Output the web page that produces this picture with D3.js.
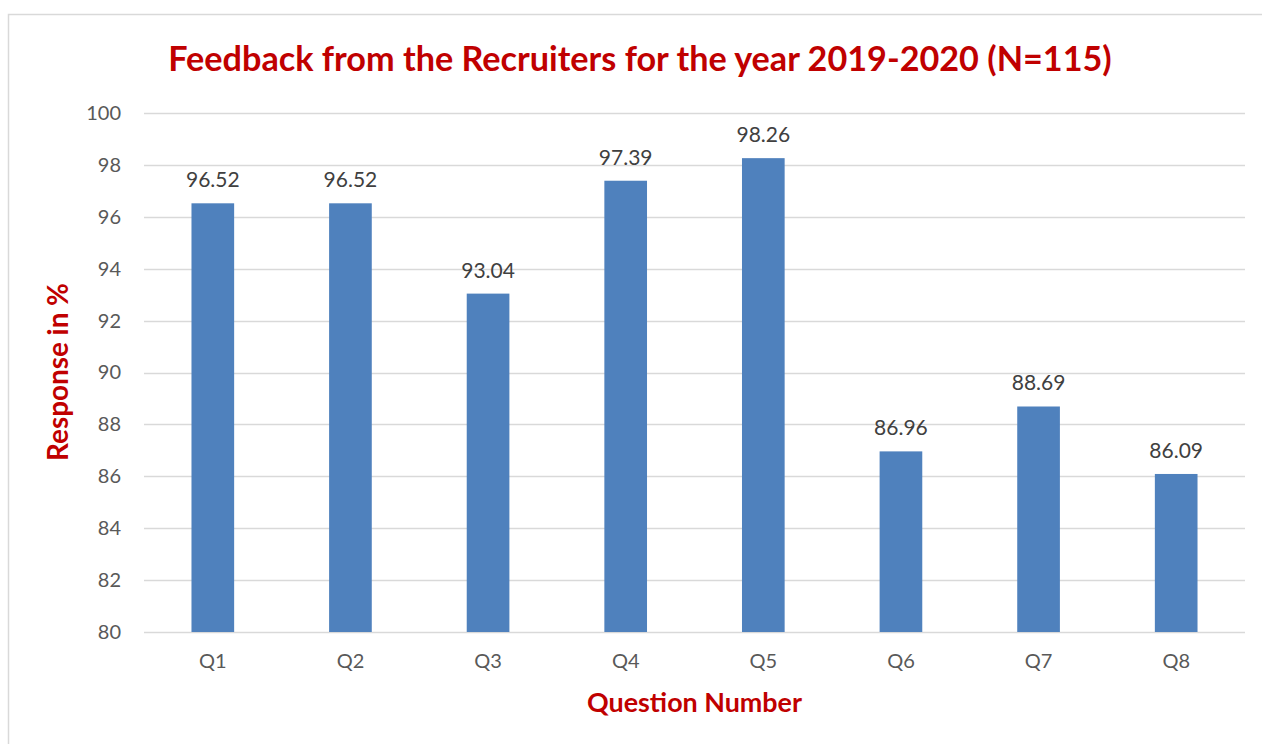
<!DOCTYPE html>
<html><head><meta charset="utf-8">
<script src="https://cdn.jsdelivr.net/npm/d3@7"></script>
<style>body{margin:0;background:#fff;}svg{display:block;}</style>
</head><body>
<script>
const categories = ["Q1","Q2","Q3","Q4","Q5","Q6","Q7","Q8"];
const values = [96.52, 96.52, 93.04, 97.39, 98.26, 86.96, 88.69, 86.09];
const yTicks = [80,82,84,86,88,90,92,94,96,98,100];
const titleText = "Feedback from the Recruiters for the year 2019-2020 (N=115)";
const xTitle = "Question Number";
const yTitle = "Response in %";

const W = 1262, H = 744;
const font = "Lato, 'Open Sans', sans-serif";
const svg = d3.select("body").append("svg").attr("width", W).attr("height", H);

svg.append("rect").attr("x", 8.5).attr("y", 14.5).attr("width", 1300).attr("height", 800)
  .attr("fill", "#fff").attr("stroke", "#d9d9d9").attr("stroke-width", 1.5);

const pLeft = 144, pRight = 1245, pTop = 113, pBottom = 632;
const x = d3.scaleBand().domain(categories).range([pLeft, pRight]).paddingInner(0.69).paddingOuter(0.345);
const y = d3.scaleLinear().domain([80, 100]).range([pBottom, pTop]);

// gridlines
svg.append("g").selectAll("line").data(yTicks).join("line")
  .attr("x1", pLeft).attr("x2", pRight)
  .attr("y1", d => Math.round(y(d)) + 0.5).attr("y2", d => Math.round(y(d)) + 0.5)
  .attr("stroke", "#d9d9d9").attr("stroke-width", 1.5);

// y axis labels
const yAxis = d3.axisLeft(y).tickValues(yTicks).tickSize(0).tickPadding(0);
const gy = svg.append("g").attr("transform", `translate(${pLeft - 23},0)`).call(yAxis);
gy.select(".domain").remove();
gy.selectAll("text").attr("fill", "#595959").style("font-family", font).style("font-size", "20px").attr("text-anchor", "end");

// bars
svg.append("g").selectAll("rect").data(values).join("rect")
  .attr("x", (d, i) => x(categories[i]))
  .attr("width", x.bandwidth())
  .attr("y", d => y(d))
  .attr("height", d => y(80) - y(d))
  .attr("fill", "#4f81bd");

// data labels
svg.append("g").selectAll("text").data(values).join("text")
  .attr("x", (d, i) => x(categories[i]) + x.bandwidth() / 2)
  .attr("y", d => y(d) - 16)
  .attr("text-anchor", "middle")
  .attr("fill", "#404040").style("font-family", font).style("font-size", "21px")
  .text(d => d.toFixed(2));

// x axis
const xAxis = d3.axisBottom(x).tickSize(0).tickPadding(0);
const gx = svg.append("g").attr("transform", `translate(0,${pBottom + 22})`).call(xAxis);
gx.select(".domain").remove();
gx.selectAll("text").attr("fill", "#595959").style("font-family", font).style("font-size", "20px");

function fit(sel, target) {
  const w = sel.node().getComputedTextLength();
  const fs = parseFloat(sel.style("font-size"));
  sel.style("font-size", (fs * target / w) + "px");
}

const t = svg.append("text").attr("x", 640).attr("y", 71).attr("text-anchor", "middle")
  .attr("fill", "#c00000").style("font-family", font).style("font-weight", "bold").style("font-size", "30px")
  .text(titleText);
fit(t, 944);

const xt = svg.append("text").attr("x", 694.5).attr("y", 712).attr("text-anchor", "middle")
  .attr("fill", "#c00000").style("font-family", font).style("font-weight", "bold").style("font-size", "22px")
  .text(xTitle);
fit(xt, 215);

const yt = svg.append("text").attr("transform", "translate(68,372) rotate(-90)").attr("text-anchor", "middle")
  .attr("fill", "#c00000").style("font-family", font).style("font-weight", "bold").style("font-size", "22px")
  .text(yTitle);
fit(yt, 178);
</script>
</body></html>
